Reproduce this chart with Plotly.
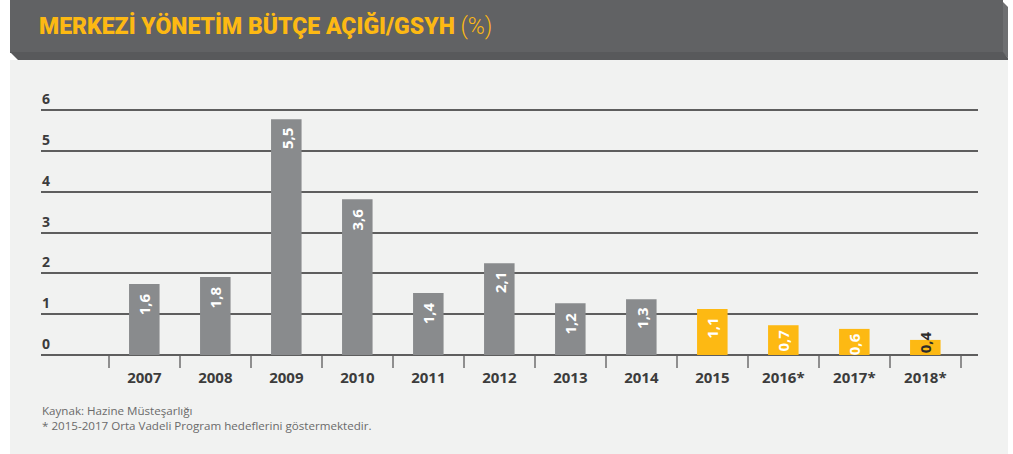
import plotly.graph_objects as go

# ---------------- data ----------------
years = ["2007", "2008", "2009", "2010", "2011", "2012", "2013", "2014",
         "2015", "2016*", "2017*", "2018*"]
bar_heights = [1.74, 1.91, 5.78, 3.82, 1.52, 2.25, 1.27, 1.37, 1.13, 0.73, 0.64, 0.37]
value_labels = ["1,6", "1,8", "5,5", "3,6", "1,4", "2,1", "1,2", "1,3",
                "1,1", "0,7", "0,6", "0,4"]
y_ticks = [0, 1, 2, 3, 4, 5, 6]
title_main = "MERKEZİ YÖNETİM BÜTÇE AÇIĞI/GSYH"
title_unit = "(%)"
source_note = "Kaynak: Hazine Müsteşarlığı"
footnote = "* 2015-2017 Orta Vadeli Program hedeflerini göstermektedir."
n_actual = 8  # first 8 years are realised, the rest are targets

# ---------------- layout geometry ----------------
W, H = 1013, 454
Y_MAX = 6.4
L, R, B = 41, 35, 99
UNIT = 245 / 6.0
T = int(round(H - B - UNIT * Y_MAX))
PW, PH = W - L - R, H - T - B


def px(x):
    return (x - L) / PW


def py(y):
    return (H - B - y) / PH


GRAY = "#898b8d"
YELLOW = "#fdb913"
TEXT = "#3c3c3c"
FONT = "Open Sans"

colors = [GRAY if i < n_actual else YELLOW for i in range(len(years))]

fig = go.Figure()
fig.add_trace(go.Bar(
    x=years, y=bar_heights, width=0.43,
    marker=dict(color=colors, line=dict(width=0)),
    hoverinfo="skip", showlegend=False,
))

annotations = []
for i, (h, lab) in enumerate(zip(bar_heights, value_labels)):
    if h >= 0.5:
        shift = -7 if h > 1.0 else -2
        annotations.append(dict(
            x=i, y=h, xref="x", yref="y", text=lab, showarrow=False,
            textangle=-90, xanchor="center", yanchor="top", yshift=shift,
            font=dict(family=FONT, size=15, color="white", weight="bold"),
        ))
    else:
        annotations.append(dict(
            x=i, y=0, xref="x", yref="y", text=lab, showarrow=False,
            textangle=-90, xanchor="center", yanchor="bottom", yshift=0,
            font=dict(family=FONT, size=15, color="#2b2b2b", weight="bold"),
        ))

# y-axis labels sitting above their grid lines
for v in y_ticks:
    annotations.append(dict(
        x=0, y=v, xref="paper", yref="y", text=str(v), showarrow=False,
        xanchor="left", yanchor="bottom", xshift=-1, yshift=0,
        font=dict(family=FONT, size=14, color=TEXT, weight="bold"),
    ))

# title
annotations.append(dict(
    xref="paper", yref="paper", x=px(37), y=py(26), xanchor="left", yanchor="middle",
    showarrow=False,
    text=(f"<span style='font-weight:900'>{title_main}</span> "
          f"<span style='font-weight:300'>{title_unit}</span>"),
    font=dict(family="Roboto", size=23, color=YELLOW),
))
# footer
annotations.append(dict(
    xref="paper", yref="paper", x=px(40), y=py(410), xanchor="left", yanchor="middle",
    showarrow=False, text=source_note,
    font=dict(family=FONT, size=11.6, color="#6a6a6a"),
))
annotations.append(dict(
    xref="paper", yref="paper", x=px(40), y=py(425), xanchor="left", yanchor="middle",
    showarrow=False, text=footnote,
    font=dict(family=FONT, size=11.6, color="#6a6a6a"),
))

shapes = [
    # light panel
    dict(type="rect", xref="paper", yref="paper", layer="below",
         x0=px(10), x1=px(1008), y0=py(454), y1=py(60),
         fillcolor="#f1f2f1", line=dict(width=0)),
    # title bar
    dict(type="rect", xref="paper", yref="paper", layer="below",
         x0=px(10), x1=px(1003), y0=py(53), y1=py(0),
         fillcolor="#616264", line=dict(width=0)),
    # right bevel
    dict(type="path", xref="paper", yref="paper", layer="below",
         path=(f"M {px(1003)} {py(2)} L {px(1008)} {py(7)} L {px(1008)} {py(58)} "
               f"L {px(1003)} {py(53)} Z"),
         fillcolor="#6e6f71", line=dict(width=0)),
    # bottom bevel
    dict(type="path", xref="paper", yref="paper", layer="below",
         path=(f"M {px(10)} {py(52)} L {px(1003)} {py(52)} L {px(1008)} {py(58)} "
               f"L {px(1008)} {py(60)} L {px(18)} {py(60)} Z"),
         fillcolor="#58595b", line=dict(width=0)),
]

fig.update_layout(
    width=W, height=H,
    margin=dict(l=L, r=R, t=T, b=B, autoexpand=False),
    paper_bgcolor="white", plot_bgcolor="rgba(0,0,0,0)",
    annotations=annotations, shapes=shapes,
    xaxis=dict(
        type="category", range=[-1.455, 11.742],
        ticks="outside", tickson="boundaries", ticklen=12, tickwidth=1.5,
        tickcolor="#8f8f8f", showgrid=False, showline=False, zeroline=False,
        ticklabelstandoff=12,
        tickfont=dict(family=FONT, size=15, color=TEXT, weight="bold"),
        fixedrange=True,
    ),
    yaxis=dict(
        range=[0, Y_MAX], tickvals=y_ticks, showticklabels=False, ticks="",
        showgrid=True, gridcolor="#5e5e5e", gridwidth=1.6,
        zeroline=True, zerolinecolor="#5e5e5e", zerolinewidth=1.6,
        showline=False,
        fixedrange=True,
    ),
)

fig.write_html(
    "out.html", config={"displayModeBar": False},
    post_script="document.body.style.margin='0';document.body.style.overflow='hidden';",
)
